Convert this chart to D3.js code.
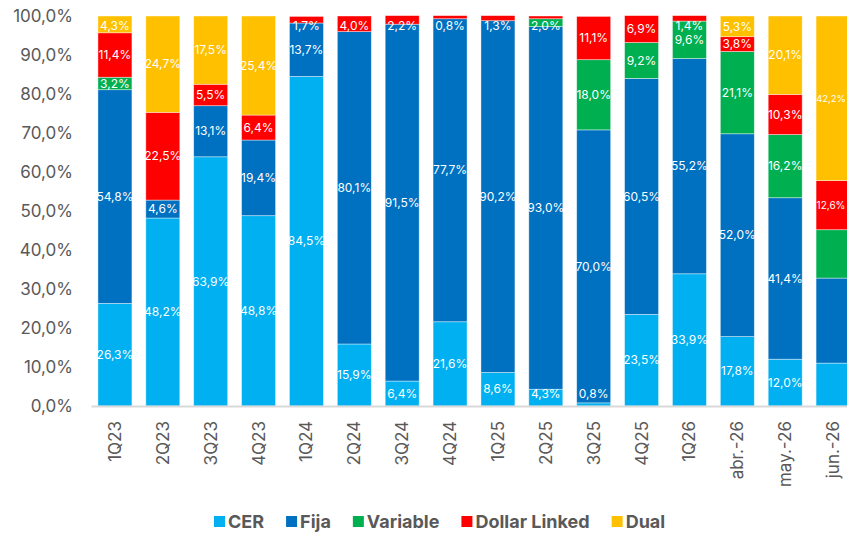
<!DOCTYPE html>
<html>
<head>
<meta charset="utf-8">
<script src="https://cdn.jsdelivr.net/npm/d3@7"></script>
<style>
  body { margin: 0; background: #fff; }
  svg { display: block; font-family: Inter, "Liberation Sans", sans-serif; }
</style>
</head>
<body>
<div id="vis-holder"></div>
<script>
// Data (shares in %)
const categories = ["1Q23", "2Q23", "3Q23", "4Q23", "1Q24", "2Q24", "3Q24", "4Q24",
                    "1Q25", "2Q25", "3Q25", "4Q25", "1Q26", "abr.-26", "may.-26", "jun.-26"];
const cer          = [26.3, 48.2, 63.9, 48.8, 84.5, 15.9, 6.4, 21.6, 8.6, 4.3, 0.8, 23.5, 33.9, 17.8, 12.0, 11.0];
const fija         = [54.8, 4.6, 13.1, 19.4, 13.7, 80.1, 91.5, 77.7, 90.2, 93.0, 70.0, 60.5, 55.2, 52.0, 41.4, 21.8];
const variable     = [3.2, 0, 0, 0, 0, 0, 0, 0, 0, 2.0, 18.0, 9.2, 9.6, 21.1, 16.2, 12.4];
const dollarLinked = [11.4, 22.5, 5.5, 6.4, 1.7, 4.0, 2.2, 0.8, 1.3, 0.7, 11.1, 6.9, 1.4, 3.8, 10.3, 12.6];
const dual         = [4.3, 24.7, 17.5, 25.4, 0, 0, 0, 0, 0, 0, 0, 0, 0, 5.3, 20.1, 42.2];
const yTicks = [0, 10, 20, 30, 40, 50, 60, 70, 80, 90, 100];

// labels that are not shown in the original
const hiddenLabels = [["2Q25", "Dollar Linked"], ["jun.-26", "CER"], ["jun.-26", "Fija"], ["jun.-26", "Variable"]];

const seriesNames = ["CER", "Fija", "Variable", "Dollar Linked", "Dual"];
const seriesValues = [cer, fija, variable, dollarLinked, dual];

const width = 847;
const height = 533;
const margin = { top: 16, right: -10, bottom: 127, left: 91 };

const svg = d3.select("#vis-holder")
              .append("svg")
              .attr("width", width)
              .attr("height", height);

const color = d3.scaleOrdinal()
                .domain(seriesNames)
                .range(["#00B0F0", "#0070C0", "#00B050", "#FF0000", "#FFC000"]);

// build rows for the stack
const rows = categories.map((c, i) => {
  const row = { cat: c };
  seriesNames.forEach((s, j) => { row[s] = seriesValues[j][i]; });
  return row;
});

const stacked = d3.stack().keys(seriesNames)(rows);

const x = d3.scaleBand()
            .domain(categories)
            .range([margin.left, width - margin.right])
            .paddingInner(0.29)
            .paddingOuter(0.145);

const y = d3.scaleLinear()
            .domain([0, 100])
            .range([height - margin.bottom, margin.top]);

// y axis (labels only)
svg.append("g")
   .attr("transform", `translate(${margin.left},0)`)
   .call(d3.axisLeft(y).tickValues(yTicks).tickSize(0).tickPadding(18)
           .tickFormat(d => d3.format(".1f")(d).replace(".", ",") + "%"))
   .call(g => g.select(".domain").remove())
   .selectAll("text")
     .attr("font-family", "Inter, 'Liberation Sans', sans-serif")
     .attr("font-size", "17px")
     .attr("fill", "#595959");

// bars
const layers = svg.append("g")
  .selectAll("g")
  .data(stacked)
  .enter()
  .append("g")
    .attr("fill", d => color(d.key));

layers.selectAll("rect")
  .data(d => d.map(p => ({ key: d.key, cat: p.data.cat, y0: p[0], y1: p[1] })))
  .enter()
  .append("rect")
    .attr("x", d => x(d.cat))
    .attr("y", d => y(d.y1))
    .attr("width", x.bandwidth())
    .attr("height", d => y(d.y0) - y(d.y1))
    .attr("stroke", "#fff")
    .attr("stroke-opacity", 0.55)
    .attr("stroke-width", 0.75);

// x axis with baseline
svg.append("g")
   .attr("transform", `translate(0,${y(0)})`)
   .call(d3.axisBottom(x).tickSize(0).tickSizeOuter(0))
   .call(g => g.select(".domain").attr("stroke", "#D9D9D9").attr("stroke-width", 2))
   .selectAll("text")
     .attr("font-family", "Inter, 'Liberation Sans', sans-serif")
     .attr("font-size", "17px")
     .attr("fill", "#595959")
     .attr("text-anchor", "end")
     .attr("transform", "translate(0,15) rotate(-90)")
     .attr("x", 0)
     .attr("y", 0)
     .attr("dy", "0.35em");

// data labels
const isHidden = (cat, key) => hiddenLabels.some(h => h[0] === cat && h[1] === key);
const labelData = [];
stacked.forEach(layer => {
  layer.forEach(p => {
    const v = p[1] - p[0];
    if (v > 0 && !isHidden(p.data.cat, layer.key)) {
      labelData.push({ cat: p.data.cat, key: layer.key, v: v, mid: (p[0] + p[1]) / 2 });
    }
  });
});

const labels = svg.append("g")
  .selectAll("text")
  .data(labelData)
  .enter()
  .append("text")
    .attr("x", d => x(d.cat) + x.bandwidth() / 2)
    .attr("y", d => Math.min(Math.max(y(d.mid), y(100) + 10), y(0) - 12))
    .attr("dy", "0.35em")
    .attr("text-anchor", "middle")
    .attr("font-size", "12px")
    .attr("fill", "#fff")
    .text(d => d3.format(".1f")(d.v).replace(".", ",") + "%");

// last bar is cut by the picture edge: fit its labels into the visible part
labels.filter(d => x(d.cat) + x.bandwidth() > width)
  .each(function(d) {
    const el = d3.select(this);
    const left = x(d.cat);
    const right = width - 1;
    let fs = 12;
    while (this.getComputedTextLength() > right - left && fs > 8) {
      fs -= 0.5;
      el.attr("font-size", fs + "px");
    }
    el.attr("x", (left + right) / 2);
  });

// legend
const legend = svg.append("g").attr("transform", "translate(214,516)");
let lx = 0;
seriesNames.forEach(s => {
  const item = legend.append("g").attr("transform", `translate(${lx},0)`);
  item.append("rect")
      .attr("width", 11)
      .attr("height", 11)
      .attr("fill", color(s));
  const t = item.append("text")
      .attr("x", 14)
      .attr("y", 6)
      .attr("dy", "0.35em")
      .attr("font-size", "18px")
      .attr("font-weight", "bold")
      .attr("fill", "#595959")
      .text(s);
  lx += 14 + t.node().getComputedTextLength() + 22;
});
</script>
</body>
</html>
